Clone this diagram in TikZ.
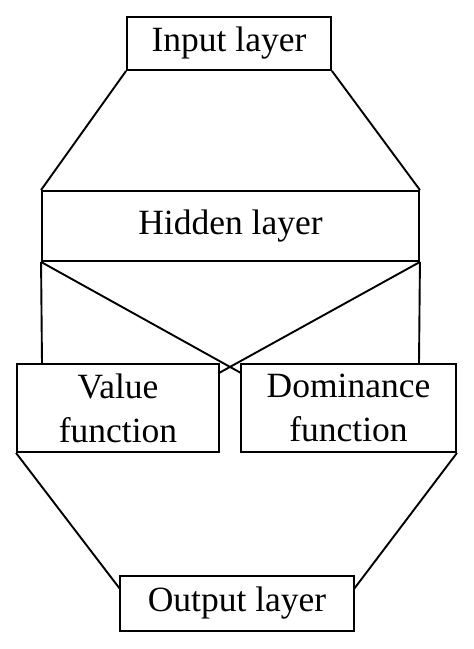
\documentclass[tikz,border=0pt]{standalone}
\usepackage{fontspec}
\setmainfont{Liberation Serif}
\begin{document}
\begin{tikzpicture}[x=1pt,y=-1pt,
  box/.style={draw,line width=1.9pt,rectangle,inner sep=0pt,align=center,
    font=\fontsize{35.5}{44}\selectfont},
  conn/.style={line width=1.9pt}]
\useasboundingbox (0,0) rectangle (474,649);
\node[box,minimum width=204pt,minimum height=53pt] (in) at (229,43.5) {Input layer};
\node[box,minimum width=377pt,minimum height=70pt] (hid) at (230.5,226) {Hidden layer};
\node[box,minimum width=202pt,minimum height=88pt] (val) at (118,408) {Value\\function};
\node[box,minimum width=215pt,minimum height=88pt] (dom) at (348.5,408) {Dominance\\function};
\node[box,minimum width=234pt,minimum height=55pt] (out) at (237,603.5) {Output layer};
\coordinate (vl) at (42,364);
\coordinate (vr) at (419,364);
\coordinate (xd) at (241,373);
\coordinate (xv) at (219,373);
\coordinate (ol) at (120,589);
\coordinate (or) at (354,589);
\draw[conn] (in.south west) -- (hid.north west);
\draw[conn] (in.south east) -- (hid.north east);
\draw[conn] (hid.south west) -- (vl);
\draw[conn] (hid.south east) -- (vr);
\draw[conn] (hid.south west) -- (xd);
\draw[conn] (hid.south east) -- (xv);
\draw[conn] (val.south west) -- (ol);
\draw[conn] (dom.south east) -- (or);
\end{tikzpicture}
\end{document}
